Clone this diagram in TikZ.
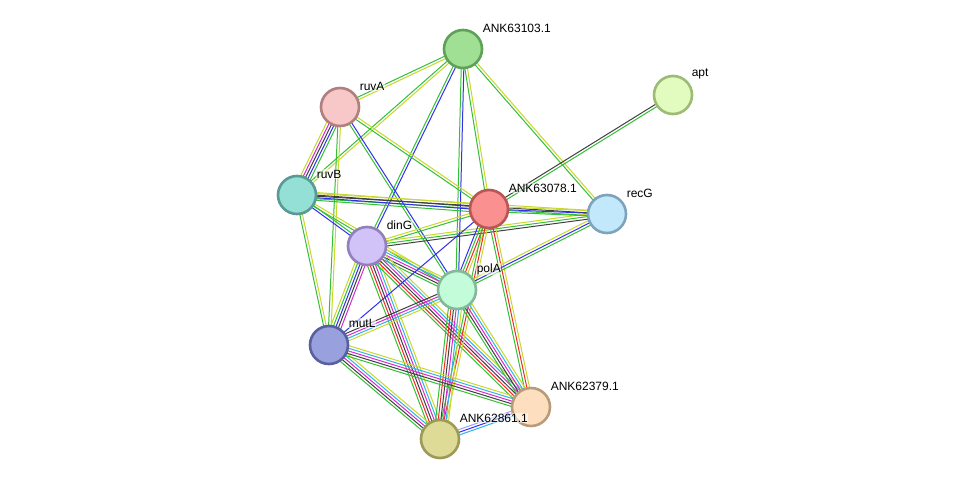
\documentclass[tikz,border=0pt]{standalone}
\usepackage{fontspec}
\setmainfont{Liberation Sans}
\usetikzlibrary{calc,backgrounds}
\definecolor{cg}{RGB}{52,192,52}
\definecolor{cy}{RGB}{200,216,44}
\definecolor{cb}{RGB}{48,48,240}
\definecolor{ck}{RGB}{64,64,64}
\definecolor{cm}{RGB}{214,42,214}
\definecolor{cc}{RGB}{50,180,224}
\definecolor{cr}{RGB}{245,40,40}
\definecolor{cl}{RGB}{160,160,255}
\newcommand\edgeN{0}
\newcommand\netedge[3]{%
  \gdef\edgeN{0}%
  \foreach \cc in {#3}{\xdef\edgeN{\the\numexpr\edgeN+1\relax}}%
  \foreach \cc [count=\ii] in {#3}{%
    \pgfmathsetmacro\off{(\ii-(\edgeN+1)/2)*2.6}%
    \draw[draw=\cc, line width=1pt] ($(#1)!\off pt!90:(#2)$) -- ($(#2)!\off pt!-90:(#1)$);
  }}
\tikzset{
  prot/.style={circle, minimum size=38pt, inner sep=0pt, line width=2.6pt},
  lab/.style={anchor=west, font=\fontsize{12}{14}\selectfont, inner sep=0.6pt, fill=white, fill opacity=0.55, text opacity=1},
}
\begin{document}
\begin{tikzpicture}[x=1pt,y=-1pt]
\useasboundingbox (0,0) rectangle (975,485);
% nodes
\node[prot, fill={rgb,255:red,160;green,224;blue,148}, draw={rgb,255:red,94;green,161;blue,87}] (A103) at (463,49) {};
\node[prot, fill={rgb,255:red,226;green,252;blue,192}, draw={rgb,255:red,156;green,187;blue,116}] (apt) at (673,95) {};
\node[prot, fill={rgb,255:red,248;green,200;blue,200}, draw={rgb,255:red,176;green,127;blue,127}] (ruvA) at (340,107) {};
\node[prot, fill={rgb,255:red,148;green,223;blue,214}, draw={rgb,255:red,90;green,154;blue,148}] (ruvB) at (297,195) {};
\node[prot, fill={rgb,255:red,250;green,144;blue,144}, draw={rgb,255:red,184;green,85;blue,85}] (A078) at (489,209) {};
\node[prot, fill={rgb,255:red,194;green,232;blue,251}, draw={rgb,255:red,126;green,163;blue,188}] (recG) at (607,214) {};
\node[prot, fill={rgb,255:red,209;green,194;blue,247}, draw={rgb,255:red,145;green,128;blue,189}] (dinG) at (367,246) {};
\node[prot, fill={rgb,255:red,194;green,252;blue,216}, draw={rgb,255:red,131;green,184;blue,154}] (polA) at (457,290) {};
\node[prot, fill={rgb,255:red,152;green,161;blue,221}, draw={rgb,255:red,88;green,96;blue,160}] (mutL) at (329,345) {};
\node[prot, fill={rgb,255:red,253;green,223;blue,192}, draw={rgb,255:red,184;green,156;blue,122}] (A379) at (531,407) {};
\node[prot, fill={rgb,255:red,221;green,219;blue,149}, draw={rgb,255:red,156;green,154;blue,86}] (A861) at (440,439) {};
% edges
\begin{pgfonlayer}{background}
\fill[white] (0,0) rectangle (975,485);
\netedge{A103}{ruvA}{cg,cy}
\netedge{A103}{ruvB}{cg,cy}
\netedge{A103}{dinG}{cg,cb}
\netedge{A103}{polA}{cg,cb}
\netedge{A103}{A078}{cg,cy}
\netedge{A103}{recG}{cg,cy}
\netedge{apt}{A078}{ck,cg}
\netedge{ruvA}{ruvB}{cy,cm,ck,cb,cg}
\netedge{ruvA}{mutL}{cg,cy}
\netedge{ruvA}{polA}{cg,cb}
\netedge{ruvA}{A078}{cg,cy}
\netedge{ruvB}{recG}{cg,ck,cy}
\netedge{ruvB}{A078}{cg,cb,ck,cy}
\netedge{ruvB}{dinG}{cb,cg}
\netedge{ruvB}{mutL}{cg,cy}
\netedge{ruvB}{polA}{cg,cy}
\netedge{dinG}{A078}{cg,cy}
\netedge{dinG}{recG}{ck,cg,cy}
\netedge{dinG}{polA}{cg,ck,cm,cc,cy}
\netedge{dinG}{mutL}{cy,cg,cb,ck,cm}
\netedge{dinG}{A861}{cg,cr,ck,cm,cc,cy}
\netedge{dinG}{A379}{cg,cr,ck,cm,cc,cy}
\netedge{A078}{polA}{cb,cg,cr,cy}
\netedge{A078}{A379}{cg,cr,cy}
\netedge{A078}{A861}{cg,cr,cy}
\netedge{A078}{mutL}{cb}
\netedge{A078}{recG}{cg,cb,cy}
\netedge{polA}{recG}{cg,cb,cy}
\netedge{polA}{mutL}{ck,cm,cc,cy}
\netedge{polA}{A861}{cg,cr,ck,cm,cc,cy}
\netedge{polA}{A379}{cg,ck,cm,cc,cy}
\netedge{mutL}{A861}{cg,ck,cm,cc,cy}
\netedge{mutL}{A379}{cg,ck,cm,cc,cy}
\netedge{A861}{A379}{cc,cb,cl}
\end{pgfonlayer}
% labels
\node[lab] (lA103) at ($(A103)+(19,-21)$) {ANK63103.1};
\node[lab] (lapt) at ($(apt)+(18,-21)$) {apt};
\node[lab] (lruvA) at ($(ruvA)+(19,-21)$) {ruvA};
\node[lab] (lruvB) at ($(ruvB)+(19,-21)$) {ruvB};
\node[lab] (lA078) at ($(A078)+(19,-21)$) {ANK63078.1};
\node[lab] (lrecG) at ($(recG)+(19,-21)$) {recG};
\node[lab] (ldinG) at ($(dinG)+(19,-21)$) {dinG};
\node[lab] (lpolA) at ($(polA)+(19,-21)$) {polA};
\node[lab] (lmutL) at ($(mutL)+(19,-22)$) {mutL};
\node[lab] (lA379) at ($(A379)+(19,-21)$) {ANK62379.1};
\node[lab] (lA861) at ($(A861)+(19,-21)$) {ANK62861.1};
\end{tikzpicture}
\end{document}
